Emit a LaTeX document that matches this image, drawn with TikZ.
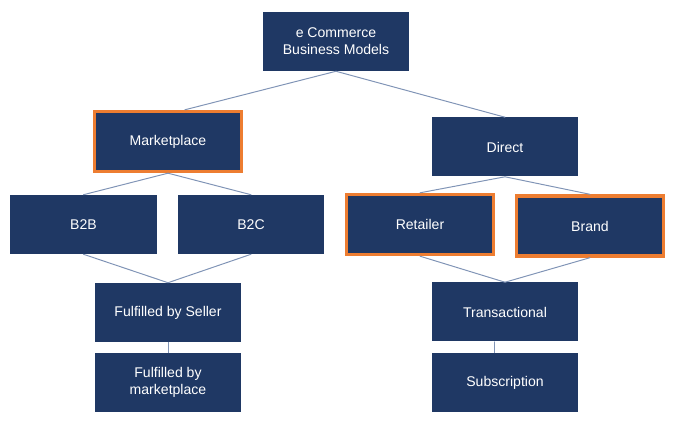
\documentclass[tikz,border=0pt]{standalone}
\usepackage{fontspec}
\setmainfont{Liberation Sans}
\definecolor{navy}{RGB}{31,56,100}
\definecolor{edge}{RGB}{237,125,49}
\definecolor{link}{RGB}{128,148,182}
\begin{document}
\begin{tikzpicture}[font=\normalsize, line join=round, line cap=round,
	box/.style={fill=navy, text=white, minimum width=3.65cm, minimum height=1.475cm, align=center, inner sep=2pt},
	pick/.style={box, draw=edge, line width=2.4pt, line join=miter, minimum width=3.675cm, minimum height=1.5cm},
	link/.style={draw=link, line width=0.7pt}]
	\useasboundingbox (0,0) rectangle (16.85,10.65);
	%\draw[color=gray!30] (0,0) grid (16.85,10.65);
	\node[box] (top) at (8.4,9.6125) {e Commerce\\Business Models};
	\node[pick] (market) at (4.2,7.1125) {Marketplace};
	\node[box] (direct) at (12.625,6.975) {Direct};
	\node[box] (b2b) at (2.0875,5.0375) {B2B};
	\node[box] (b2c) at (6.275,5.0375) {B2C};
	\node[pick] (retail) at (10.5,5.0375) {Retailer};
	\node[pick] (brand) at (14.75,5.0) {Brand};
	\node[box] (seller) at (4.2,2.8375) {Fulfilled by Seller};
	\node[box] (byplace) at (4.2,1.0875) {Fulfilled by\\marketplace};
	\node[box] (trans) at (12.625,2.85) {Transactional};
	\node[box] (subs) at (12.625,1.0875) {Subscription};
	\draw[link] (top.south) -- ([xshift=0.42cm]market.north);
	\draw[link] (top.south) -- (direct.north);
	\draw[link] (market.south) -- (b2b.north);
	\draw[link] (market.south) -- (b2c.north);
	\draw[link] (direct.south) -- (retail.north);
	\draw[link] (direct.south) -- (brand.north);
	\draw[link] (b2b.south) -- (seller.north);
	\draw[link] (b2c.south) -- (seller.north);
	\draw[link] (retail.south) -- (trans.north);
	\draw[link] (brand.south) -- (trans.north);
	\draw[link] ([xshift=-0.275cm]trans.south) -- ([xshift=-0.275cm]subs.north);
	\draw[link] (seller.south) -- (byplace.north);
\end{tikzpicture}
\end{document}
